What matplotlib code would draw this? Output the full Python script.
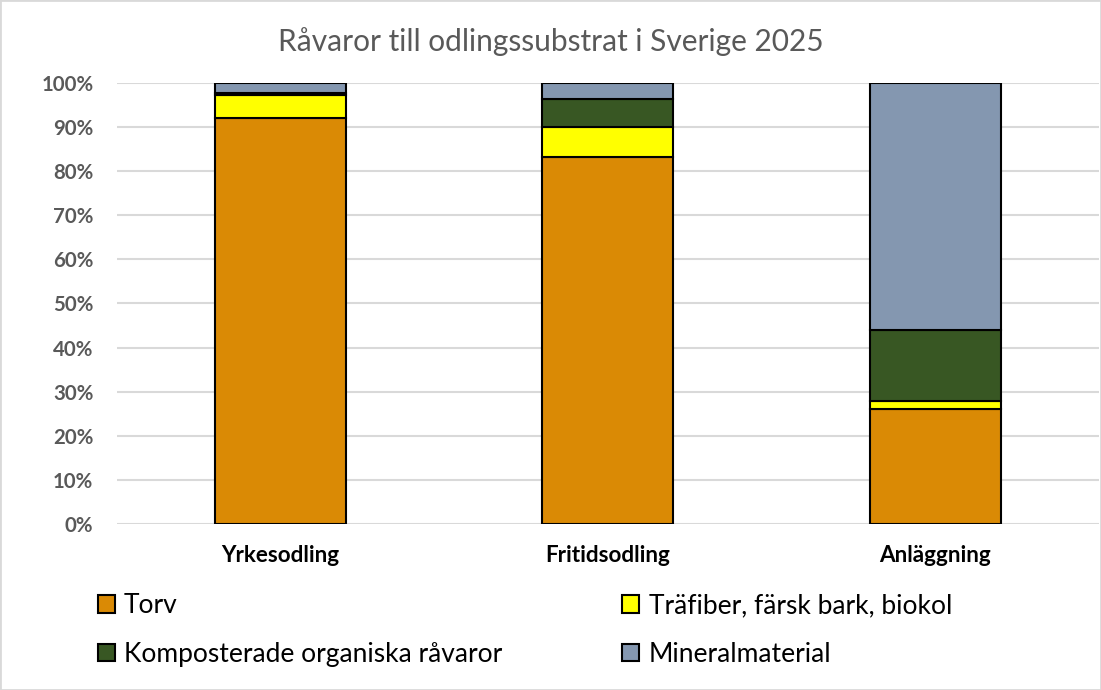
import matplotlib
matplotlib.use('Agg')
import matplotlib.pyplot as plt
from matplotlib.patches import Rectangle
import numpy as np

plt.rcParams['font.family'] = ['Lato', 'DejaVu Sans']

categories = ['Yrkesodling', 'Fritidsodling', 'Anläggning']
torv = [92.0, 83.2, 26.0]
trafiber = [5.3, 6.9, 2.0]
kompost = [0.5, 6.3, 16.0]
mineral = [2.2, 3.6, 56.0]
yticks = [0, 10, 20, 30, 40, 50, 60, 70, 80, 90, 100]

series = [
    ('Torv', torv, '#DA8A05'),
    ('Träfiber, färsk bark, biokol', trafiber, '#FFFF00'),
    ('Komposterade organiska råvaror', kompost, '#385723'),
    ('Mineralmaterial', mineral, '#8497B0'),
]

fig = plt.figure(figsize=(11.01, 6.90), dpi=100)
ax = fig.add_axes([0.1063, 0.2406, 0.8917, 0.6391])

x = np.arange(len(categories))
bottom = np.zeros(len(categories))
handles = {}
for name, vals, col in series:
    b = ax.bar(x, vals, 0.4, bottom=bottom, color=col, edgecolor='black',
               linewidth=1.5, label=name, zorder=3)
    handles[name] = b
    bottom += np.array(vals)

ax.set_xlim(-0.5, 2.5)
ax.set_ylim(0, 100)
ax.set_yticks(yticks)
ax.set_yticklabels([f'{t}%' for t in yticks], fontsize=14.7, fontweight='bold', color='#595959')
ax.set_xticks(x)
ax.set_xticklabels(categories, fontsize=16.2, fontweight='bold', color='black')
ax.tick_params(length=0)
ax.tick_params(axis='x', pad=15)
ax.tick_params(axis='y', pad=17)
ax.grid(axis='y', color='#D9D9D9', linewidth=1.5, zorder=0)
for s in ax.spines.values():
    s.set_visible(False)

fig.text(0.5, 0.94, 'Råvaror till odlingssubstrat i Sverige 2025', ha='center', va='center',
         fontsize=21.5, color='#595959')

order = ['Torv', 'Komposterade organiska råvaror', 'Träfiber, färsk bark, biokol', 'Mineralmaterial']
fig.legend([handles[n] for n in order], order, ncol=2, loc='upper left',
           bbox_to_anchor=(0.067, 0.175), frameon=False, fontsize=19,
           handlelength=0.65, handleheight=0.65, handletextpad=0.35,
           columnspacing=4.55, labelspacing=0.9)

fig.patches.append(Rectangle((0, 0), 1, 1, transform=fig.transFigure, fill=False,
                             edgecolor='#D9D9D9', linewidth=2))

fig.savefig('out.png', dpi=100)
